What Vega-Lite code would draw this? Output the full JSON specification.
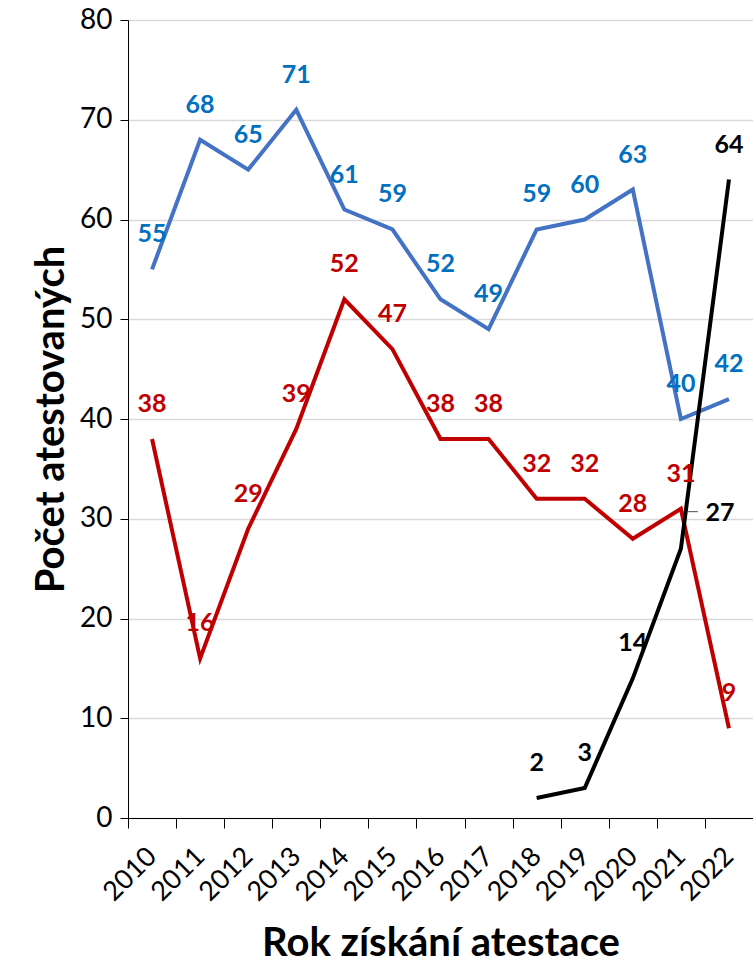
{
  "$schema": "https://vega.github.io/schema/vega-lite/v6.json",
  "width": 625,
  "height": 798,
  "autosize": {"type": "none"},
  "padding": {"left": 128, "top": 20, "right": 0, "bottom": 148},
  "background": "white",
  "config": {"view": {"stroke": null}, "font": "Lato"},
  "data": {"values": [
    {"year": "2010", "series": "A", "value": 55},
    {"year": "2011", "series": "A", "value": 68},
    {"year": "2012", "series": "A", "value": 65},
    {"year": "2013", "series": "A", "value": 71},
    {"year": "2014", "series": "A", "value": 61},
    {"year": "2015", "series": "A", "value": 59},
    {"year": "2016", "series": "A", "value": 52},
    {"year": "2017", "series": "A", "value": 49},
    {"year": "2018", "series": "A", "value": 59},
    {"year": "2019", "series": "A", "value": 60},
    {"year": "2020", "series": "A", "value": 63},
    {"year": "2021", "series": "A", "value": 40},
    {"year": "2022", "series": "A", "value": 42},
    {"year": "2010", "series": "B", "value": 38},
    {"year": "2011", "series": "B", "value": 16},
    {"year": "2012", "series": "B", "value": 29},
    {"year": "2013", "series": "B", "value": 39},
    {"year": "2014", "series": "B", "value": 52},
    {"year": "2015", "series": "B", "value": 47},
    {"year": "2016", "series": "B", "value": 38},
    {"year": "2017", "series": "B", "value": 38},
    {"year": "2018", "series": "B", "value": 32},
    {"year": "2019", "series": "B", "value": 32},
    {"year": "2020", "series": "B", "value": 28},
    {"year": "2021", "series": "B", "value": 31},
    {"year": "2022", "series": "B", "value": 9},
    {"year": "2018", "series": "C", "value": 2},
    {"year": "2019", "series": "C", "value": 3},
    {"year": "2020", "series": "C", "value": 14},
    {"year": "2021", "series": "C", "value": 27},
    {"year": "2022", "series": "C", "value": 64}
  ]},
  "encoding": {
    "x": {
      "field": "year", "type": "ordinal",
      "scale": {"type": "band", "paddingInner": 0, "paddingOuter": 0},
      "axis": {
        "title": "Rok získání atestace",
        "titleFontSize": 40, "titleFontWeight": "bold", "titleColor": "#000000",
        "titlePadding": 18,
        "labelAngle": -45, "labelAlign": "right", "labelBaseline": "middle",
        "labelFontSize": 27, "labelColor": "#000000",
        "labelPadding": 24, "labelOffset": 0,
        "tickBand": "extent", "tickSize": 10, "tickColor": "#000000", "tickWidth": 1,
        "domainColor": "#000000", "domainWidth": 1,
        "grid": false
      }
    },
    "y": {
      "field": "value", "type": "quantitative",
      "scale": {"domain": [0, 80], "nice": false},
      "axis": {
        "title": "Počet atestovaných",
        "titleFontSize": 40, "titleFontWeight": "bold", "titleColor": "#000000",
        "titlePadding": 8,
        "values": [0, 10, 20, 30, 40, 50, 60, 70, 80],
        "labelFontSize": 28, "labelColor": "#000000",
        "labelPadding": 8,
        "tickSize": 8, "tickColor": "#000000",
        "domainColor": "#000000",
        "grid": true, "gridColor": "#D9D9D9", "gridWidth": 1.5
      }
    }
  },
  "layer": [
    {
      "transform": [{"filter": "datum.series === 'A'"}],
      "mark": {"type": "line", "color": "#4472C4", "strokeWidth": 4},
      "encoding": {}
    },
    {
      "transform": [{"filter": "datum.series === 'B'"}],
      "mark": {"type": "line", "color": "#C00000", "strokeWidth": 4},
      "encoding": {}
    },
    {
      "transform": [{"filter": "datum.series === 'C'"}],
      "mark": {"type": "line", "color": "#000000", "strokeWidth": 4},
      "encoding": {}
    },
    {
      "transform": [{"filter": "datum.series === 'A'"}],
      "mark": {"type": "text", "color": "#0070C0", "fontSize": 25, "fontWeight": "bold", "dy": -35},
      "encoding": {"text": {"field": "value"}}
    },
    {
      "transform": [{"filter": "datum.series === 'B'"}],
      "mark": {"type": "text", "color": "#C00000", "fontSize": 25, "fontWeight": "bold", "dy": -35},
      "encoding": {"text": {"field": "value"}}
    },
    {
      "transform": [{"filter": "datum.series === 'C' && datum.year !== '2021'"}],
      "mark": {"type": "text", "color": "#000000", "fontSize": 25, "fontWeight": "bold", "dy": -35},
      "encoding": {"text": {"field": "value"}}
    },
    {
      "transform": [{"filter": "datum.series === 'C' && datum.year === '2021'"}],
      "mark": {"type": "text", "color": "#000000", "fontSize": 25, "fontWeight": "bold", "dx": 39, "dy": -36},
      "encoding": {"text": {"field": "value"}}
    },
    {
      "transform": [{"filter": "datum.series === 'C' && datum.year === '2021'"}],
      "mark": {"type": "tick", "color": "#000000", "thickness": 1, "orient": "horizontal", "size": 10, "xOffset": 12, "yOffset": -37},
      "encoding": {}
    }
  ]
}
